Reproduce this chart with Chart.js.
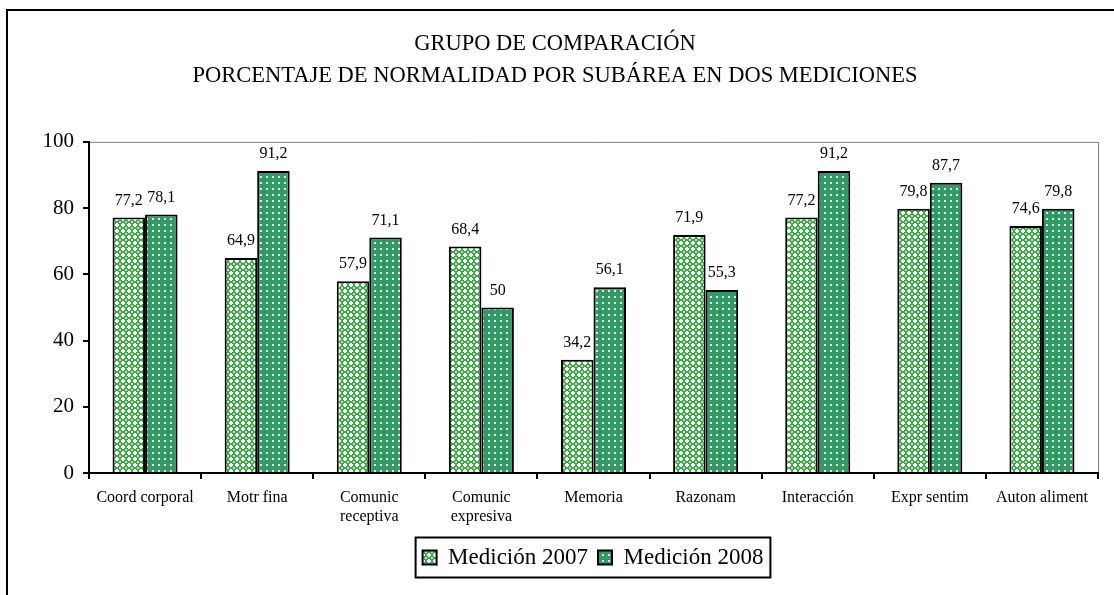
<!DOCTYPE html>
<html>
<head>
<meta charset="utf-8">
<script src="https://cdn.jsdelivr.net/npm/chart.js@4/dist/chart.umd.min.js"></script>
<style>
  html, body { margin: 0; padding: 0; background: #fff; }
  #wrap { position: relative; width: 1114px; height: 595px; }
</style>
</head>
<body>
<div id="wrap"><canvas id="grafico"></canvas></div>
<script>
const categorias = ['Coord corporal', 'Motr fina', ['Comunic', 'receptiva'], ['Comunic', 'expresiva'], 'Memoria', 'Razonam', 'Interacción', 'Expr sentim', 'Auton aliment'];
const medicion2007 = [77.2, 64.9, 57.9, 68.4, 34.2, 71.9, 77.2, 79.8, 74.6];
const medicion2008 = [78.1, 91.2, 71.1, 50, 56.1, 55.3, 91.2, 87.7, 79.8];
const series = ['Medición 2007', 'Medición 2008'];
const titulo = ['GRUPO DE COMPARACIÓN', 'PORCENTAJE DE NORMALIDAD POR SUBÁREA EN DOS MEDICIONES'];

const SERIF = '"Liberation Serif", "Times New Roman", serif';
const coma = (v) => String(v).replace('.', ',');

// small tiles that imitate the Excel pattern fills
function trama(tipo) {
  const c = document.createElement('canvas');
  c.width = 6; c.height = 6;
  const g = c.getContext('2d');
  if (tipo === 0) {
    g.fillStyle = '#3fa94a'; g.fillRect(0, 0, 6, 6);
    g.fillStyle = '#ffffff';
    g.fillRect(2, 1, 2, 4); g.fillRect(1, 2, 4, 2);
    g.fillStyle = '#b8e2bc';
    g.fillRect(0, 0, 1, 1); g.fillRect(5, 0, 1, 1); g.fillRect(0, 5, 1, 1); g.fillRect(5, 5, 1, 1);
  } else {
    g.fillStyle = '#339966'; g.fillRect(0, 0, 6, 6);
    g.fillStyle = '#d8f0e0'; g.fillRect(2, 2, 2, 2);
  }
  return document.createElement('canvas').getContext('2d').createPattern(c, 'repeat');
}

const marco = {
  id: 'marco',
  afterLayout(chart) {
    // legend sits right of centre in the original
    const lg = chart.legend;
    if (lg) { lg.left += 38; lg.right += 38; }
  },
  beforeDraw(chart) {
    const ctx = chart.ctx, a = chart.chartArea;
    ctx.save();
    ctx.strokeStyle = '#000'; ctx.lineWidth = 2;
    ctx.strokeRect(7, 10, 2000, 2000);
    ctx.strokeStyle = '#808080'; ctx.lineWidth = 1;
    ctx.beginPath();
    ctx.moveTo(a.left, a.top + 0.5); ctx.lineTo(a.right + 0.5, a.top + 0.5); ctx.lineTo(a.right + 0.5, a.bottom);
    ctx.stroke();
    ctx.restore();
  },
  afterDraw(chart) {
    const lg = chart.legend, ctx = chart.ctx;
    if (!lg || !lg.legendHitBoxes.length) return;
    const hb = lg.legendHitBoxes;
    const izq = hb[0].left - 7, der = hb[hb.length - 1].left + hb[hb.length - 1].width + 7;
    const cy = hb[0].top + hb[0].height / 2;
    ctx.save();
    ctx.strokeStyle = '#000'; ctx.lineWidth = 2;
    ctx.strokeRect(izq, cy - 20, der - izq, 40);
    ctx.restore();
  }
};

const etiquetas = {
  id: 'etiquetas',
  afterDatasetsDraw(chart) {
    const ctx = chart.ctx;
    ctx.save();
    ctx.font = '16px ' + SERIF;
    ctx.fillStyle = '#000';
    ctx.textAlign = 'center';
    ctx.textBaseline = 'bottom';
    chart.data.datasets.forEach((ds, i) => {
      chart.getDatasetMeta(i).data.forEach((bar, j) => {
        ctx.fillText(coma(ds.data[j]), bar.x, bar.y - 9);
      });
    });
    ctx.restore();
  }
};

Chart.defaults.color = '#000';
Chart.defaults.font.family = SERIF;

new Chart(document.getElementById('grafico'), {
  type: 'bar',
  data: {
    labels: categorias,
    datasets: [
      { label: series[0], data: medicion2007, backgroundColor: trama(0), borderColor: '#000', borderWidth: 2 },
      { label: series[1], data: medicion2008, backgroundColor: trama(1), borderColor: '#000', borderWidth: 2 }
    ]
  },
  options: {
    responsive: true,
    maintainAspectRatio: false,
    animation: false,
    datasets: { bar: { categoryPercentage: 0.58, barPercentage: 1.0 } },
    layout: { padding: { left: 12, right: 16, top: 0, bottom: 16 } },
    plugins: {
      title: {
        display: true,
        text: titulo,
        color: '#000',
        font: { size: 22.5, weight: 'normal', family: SERIF, lineHeight: 1.42 },
        padding: { top: 28, bottom: 50 }
      },
      legend: {
        position: 'bottom',
        labels: { color: '#000', font: { size: 23, family: SERIF }, boxWidth: 14, boxHeight: 14, padding: 10 }
      },
      tooltip: { enabled: false }
    },
    scales: {
      x: {
        grid: { drawOnChartArea: false, color: '#000', lineWidth: 2, tickLength: 6 },
        border: { color: '#000', width: 2 },
        ticks: { color: '#000', font: { size: 16, family: SERIF, lineHeight: 1.15 }, padding: 10, maxRotation: 0, autoSkip: false },
        afterFit(s) { s.height = 63; }
      },
      y: {
        min: 0, max: 100,
        grid: { drawOnChartArea: false, color: '#000', lineWidth: 2, tickLength: 6 },
        border: { color: '#000', width: 2 },
        ticks: { stepSize: 20, color: '#000', font: { size: 21, family: SERIF }, padding: 9 },
        afterFit(s) { s.width = 77; }
      }
    }
  },
  plugins: [marco, etiquetas]
});
</script>
</body>
</html>
